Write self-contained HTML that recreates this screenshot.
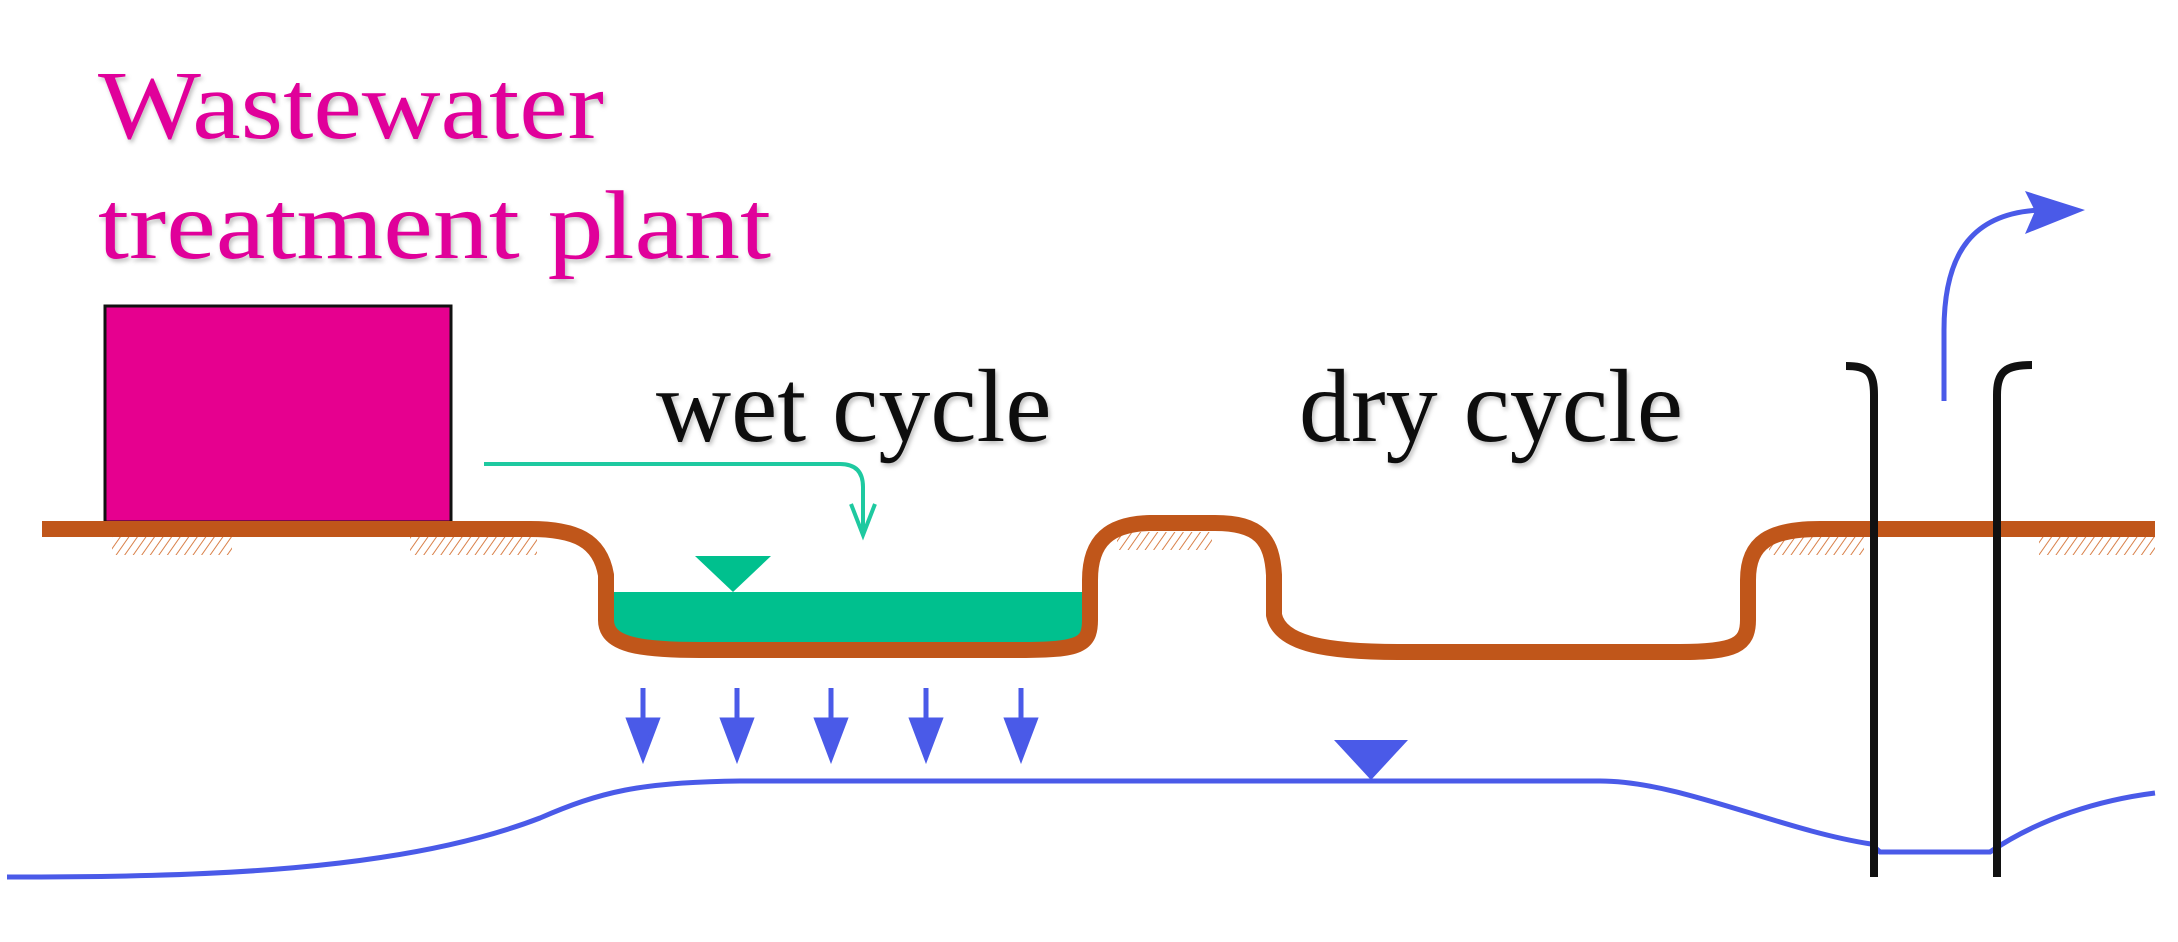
<!DOCTYPE html>
<html><head><meta charset="utf-8"><style>
html,body{margin:0;padding:0;background:#fff}
svg{display:block}
</style></head><body>
<svg width="2178" height="942" viewBox="0 0 2178 942" xmlns="http://www.w3.org/2000/svg">
<defs>
<filter id="sh" x="-5%" y="-5%" width="110%" height="120%"><feDropShadow dx="2" dy="3" stdDeviation="2" flood-color="#000" flood-opacity="0.25"/></filter>
<pattern id="hatch" width="7" height="7" patternUnits="userSpaceOnUse" patternTransform="rotate(35)">
<line x1="0" y1="0" x2="0" y2="7" stroke="#d9814a" stroke-width="2"/></pattern>
</defs>
<text x="98" y="138" font-family="Liberation Serif, serif" font-size="98" fill="#e0009a" filter="url(#sh)" textLength="506" lengthAdjust="spacingAndGlyphs">Wastewater</text>
<text x="98" y="258" font-family="Liberation Serif, serif" font-size="98" fill="#e0009a" filter="url(#sh)" textLength="673" lengthAdjust="spacingAndGlyphs">treatment plant</text>
<text x="656" y="441" font-family="Liberation Serif, serif" font-size="104" fill="#111" filter="url(#sh)">wet cycle</text>
<text x="1299" y="441" font-family="Liberation Serif, serif" font-size="104" fill="#111" filter="url(#sh)">dry cycle</text>

<rect x="105" y="306" width="346" height="216" fill="#e6008f" stroke="#111" stroke-width="3"/>

<rect x="112" y="537" width="120" height="18" fill="url(#hatch)"/>
<rect x="410" y="537" width="127" height="18" fill="url(#hatch)"/>
<rect x="1117" y="532" width="95" height="18" fill="url(#hatch)"/>
<rect x="1769" y="537" width="95" height="18" fill="url(#hatch)"/>
<rect x="2039" y="537" width="116" height="18" fill="url(#hatch)"/>

<path d="M612 592 L1084 592 L1084 630 C1084 645 1060 645 1020 645 L700 645 C640 645 612 640 612 630Z" fill="#00c08e"/>
<polygon points="695,556 771,556 733,592" fill="#00c08e"/>

<path d="M42 529 L530 529 C575 529 600 540 606 575 L606 620 C606 645 640 650 700 650 L1020 650 C1080 650 1090 645 1090 620 L1090 580 C1090 540 1110 524 1150 523 L1215 523 C1260 523 1272 540 1274 575 L1274 615 C1280 645 1330 652 1400 652 L1680 652 C1735 652 1748 645 1748 620 L1748 580 C1748 542 1770 529 1820 529 L2155 529" fill="none" stroke="#c0561a" stroke-width="16" stroke-linejoin="round"/>

<path d="M484 464 L840 464 Q863 464 863 487 L863 535" fill="none" stroke="#1ec9a0" stroke-width="4"/>
<polyline points="851,504 863,535 875,504" fill="none" stroke="#1ec9a0" stroke-width="4"/>

<g stroke="#4a5ae8" stroke-width="5" fill="#4a5ae8">
<line x1="643" y1="688" x2="643" y2="735"/><polygon points="629,720 657,720 643,757"/>
<line x1="737" y1="688" x2="737" y2="735"/><polygon points="723,720 751,720 737,757"/>
<line x1="831" y1="688" x2="831" y2="735"/><polygon points="817,720 845,720 831,757"/>
<line x1="926" y1="688" x2="926" y2="735"/><polygon points="912,720 940,720 926,757"/>
<line x1="1021" y1="688" x2="1021" y2="735"/><polygon points="1007,720 1035,720 1021,757"/>
</g>

<path d="M7 877 C200 877 400 872 540 818 C600 792 640 782 740 781 L1600 781 C1680 781 1780 830 1871 844 L1880 852 L1990 852 C2040 818 2100 800 2155 793" fill="none" stroke="#4a5ae8" stroke-width="5"/>
<polygon points="1334,740 1408,740 1371,780" fill="#4a5ae8"/>

<path d="M1846 366 C1868 366 1874 372 1874 395 L1874 877" fill="none" stroke="#111" stroke-width="8"/>
<path d="M2032 365 C2005 365 1997 372 1997 395 L1997 877" fill="none" stroke="#111" stroke-width="8"/>

<path d="M1944 401 L1944 330 C1944 250 1975 213 2040 210" fill="none" stroke="#4a5ae8" stroke-width="5"/>
<polygon points="2025,191 2085,210 2025,234 2035,211" fill="#4a5ae8"/>
</svg>
</body></html>
